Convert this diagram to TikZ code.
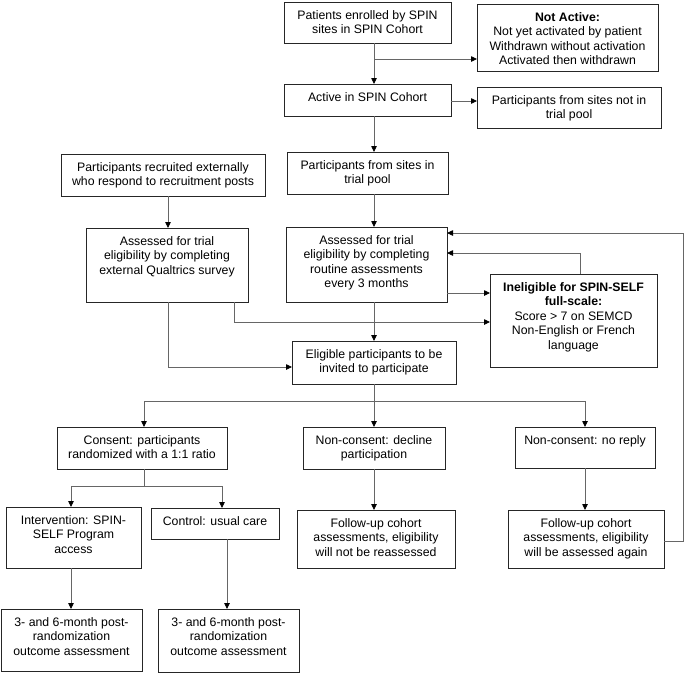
\documentclass[tikz,border=0pt]{standalone}
\usepackage{fontspec}
\setmainfont{Liberation Sans}
\usetikzlibrary{arrows.meta}
\tikzset{
  boxst/.style={draw=black!85, line width=1pt, inner sep=0pt, outer sep=0pt, rectangle},
  txt/.style={inner sep=0pt, align=center, font=\fontsize{12.3}{14.6}\selectfont, text=black},
  conn/.style={draw=black!60, line width=0.8pt, -{Triangle[length=6pt,width=5.5pt,color=black]}},
  plain/.style={draw=black!60, line width=0.8pt},
}
\newcommand\bx[6]{%
  \node[boxst, anchor=north west, minimum width={#4pt-#2pt}, minimum height={#5pt-#3pt}] (#1) at (#2,#3) {};
  \node[txt, anchor=north, yshift=-8pt] (#1t) at (#1.north) {#6};
}
\begin{document}
\begin{tikzpicture}[x=1pt,y=-1pt]
\useasboundingbox (0,0) rectangle (685,673);
% boxes
\bx{pat}{284}{2}{451}{43}{Patients enrolled by SPIN\\sites in SPIN Cohort}
\bx{nact}{477}{4}{658}{71}{\textbf{Not Active:}\\Not yet activated by patient\\Withdrawn without activation\\Activated then withdrawn}
\bx{act}{284}{84}{451}{116}{Active in SPIN Cohort}
\bx{npool}{477}{87}{661}{128}{Participants from sites not in\\trial pool}
\bx{pool}{287}{152}{448}{194}{Participants from sites in\\trial pool}
\bx{ext}{61}{154}{265}{196}{Participants recruited externally\\who respond to recruitment posts}
\bx{aext}{86}{228}{248}{302}{Assessed for trial\\eligibility by completing\\external Qualtrics survey}
\bx{arout}{286}{227}{447}{302}{Assessed for trial\\eligibility by completing\\routine assessments\\every 3 months}
\bx{inel}{490}{274}{657}{367}{\textbf{Ineligible for SPIN-SELF}\\\textbf{full-scale:}\\Score > 7 on SEMCD\\Non-English or French\\language}
\bx{elig}{292}{341}{456}{384}{Eligible participants to be\\invited to participate}
\bx{cons}{57}{427}{227}{469}{Consent: participants\\randomized with a 1:1 ratio}
\bx{decl}{303}{427}{445}{469}{Non-consent: decline\\participation}
\bx{norep}{515}{427}{655}{468}{Non-consent: no reply}
\bx{intv}{6}{507}{141}{568}{Intervention: SPIN-\\SELF Program\\access}
\bx{ctrl}{151}{508}{279}{539}{Control: usual care}
\bx{fnot}{297}{510}{455}{568}{Follow-up cohort\\assessments, eligibility\\will not be reassessed}
\bx{fagain}{508}{510}{664}{568}{Follow-up cohort\\assessments, eligibility\\will be assessed again}
\bx{oa}{1}{609}{142}{671}{3- and 6-month post-\\randomization\\outcome assessment}
\bx{ob}{158}{609}{299}{672}{3- and 6-month post-\\randomization\\outcome assessment}
% helper coordinates
\coordinate (xm) at (374,0);
\coordinate (xe) at (168,0);
\coordinate (xe2) at (234,0);
\coordinate (xi) at (580,0);
\coordinate (xr) at (683,0);
\coordinate (xc) at (144,0);
\coordinate (xn) at (585,0);
\coordinate (xiv) at (71,0);
\coordinate (xct) at (227,0);
\coordinate (xct2) at (222,0);
\coordinate (y59) at (0,59);
\coordinate (y101) at (0,101);
\coordinate (y233) at (0,233);
\coordinate (y253) at (0,253);
\coordinate (y293) at (0,293);
\coordinate (y322) at (0,322);
\coordinate (y367) at (0,367);
\coordinate (y401) at (0,401);
\coordinate (y486) at (0,486);
\coordinate (y541) at (0,541);
% connectors
\draw[conn] (xm |- pat.south) -- (xm |- act.north);
\draw[conn] (xm |- y59) -- (nact.west |- y59);
\draw[conn] (act.east |- y101) -- (npool.west |- y101);
\draw[conn] (xm |- act.south) -- (xm |- pool.north);
\draw[conn] (xm |- pool.south) -- (xm |- arout.north);
\draw[conn] (xe |- ext.south) -- (xe |- aext.north);
\draw[conn] (xe |- aext.south) -- (xe |- y367) -- (elig.west |- y367);
\draw[conn] (xe2 |- aext.south) -- (xe2 |- y322) -- (inel.west |- y322);
\draw[conn] (arout.east |- y293) -- (inel.west |- y293);
\draw[conn] (xm |- arout.south) -- (xm |- elig.north);
\draw[conn] (xi |- inel.north) -- (xi |- y253) -- (arout.east |- y253);
\draw[conn] (fagain.east |- y541) -- (xr |- y541) -- (xr |- y233) -- (arout.east |- y233);
\draw[plain] (xm |- elig.south) -- (xm |- y401);
\draw[plain] (xc |- y401) -- (xn |- y401);
\draw[conn] (xc |- y401) -- (xc |- cons.north);
\draw[conn] (xm |- y401) -- (xm |- decl.north);
\draw[conn] (xn |- y401) -- (xn |- norep.north);
\draw[plain] (xc |- cons.south) -- (xc |- y486);
\draw[plain] (xiv |- y486) -- (xct2 |- y486);
\draw[conn] (xiv |- y486) -- (xiv |- intv.north);
\draw[conn] (xct2 |- y486) -- (xct2 |- ctrl.north);
\draw[conn] (xiv |- intv.south) -- (xiv |- oa.north);
\draw[conn] (xct |- ctrl.south) -- (xct |- ob.north);
\draw[conn] (xm |- decl.south) -- (xm |- fnot.north);
\draw[conn] (xn |- norep.south) -- (xn |- fagain.north);
\end{tikzpicture}
\end{document}
